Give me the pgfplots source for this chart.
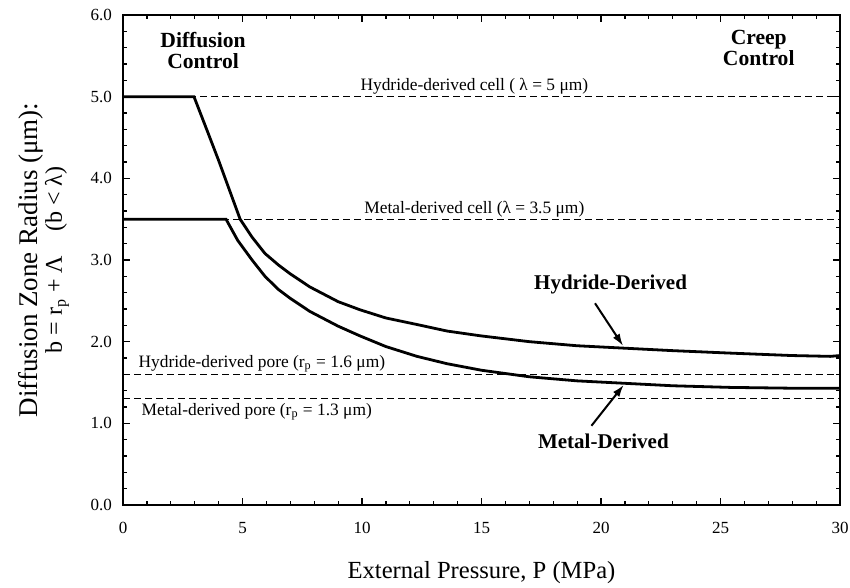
\documentclass[border=0pt]{standalone}
\usepackage{fontspec}
\setmainfont{Liberation Serif}
\usepackage{pgfplots}
\pgfplotsset{compat=1.18}
\usetikzlibrary{arrows.meta}

\begin{document}
\begin{tikzpicture}
\begin{axis}[
  scale only axis, width=358.5pt, height=245pt,
  xmin=0, xmax=30, ymin=0, ymax=6,
  xtick={0,5,...,30}, ytick={0,1,...,6},
  minor x tick num=4, minor y tick num=4,
  tick align=inside, major tick length=3.5pt, minor tick length=2pt,
  tick style={black, line width=0.6pt},
  axis line style={line width=1pt},
  /pgf/number format/assume math mode=true,
  y tick label style={/pgf/number format/.cd, fixed, fixed zerofill, precision=1, /tikz/.cd, xshift=-2pt},
  x tick label style={yshift=-5pt},
  tick label style={font=\fontsize{8.5}{10}\selectfont},
  xlabel={External Pressure, P (MPa)},
  xlabel style={font=\fontsize{12.3}{14}\selectfont, yshift=-7pt},
  ylabel={{\fontsize{13.5}{15}\selectfont Diffusion Zone Radius (μm):}\\
          {\fontsize{12}{14}\selectfont b = r\textsubscript{p} + Λ\quad (b < λ)}},
  ylabel style={align=center, yshift=4pt},
  clip=false,
]
% reference lines
\addplot[black, line width=0.5pt, dash pattern=on 3.3pt off 2.2pt] coordinates {(0,5) (30,5)};
\addplot[black, line width=0.5pt, dash pattern=on 3.3pt off 2.2pt] coordinates {(0,3.5) (30,3.5)};
\addplot[black, line width=0.5pt, dash pattern=on 3.3pt off 2.2pt] coordinates {(0,1.6) (30,1.6)};
\addplot[black, line width=0.5pt, dash pattern=on 3.3pt off 2.2pt] coordinates {(0,1.3) (30,1.3)};

% hydride-derived
\addplot[black, line width=1.4pt] coordinates {
  (0,5) (2.97,5) (3.5,4.6) (4,4.22) (4.5,3.82) (4.9,3.5) (5.4,3.28) (5.94,3.08)
  (6.5,2.94) (7,2.83) (7.82,2.67) (9,2.49) (9.92,2.39) (11,2.29) (12.3,2.21)
  (13.56,2.13) (15,2.07) (17,2.0) (19,1.95) (21,1.92) (23,1.89) (25.4,1.86)
  (28,1.83) (29.6,1.82) (30,1.83)};
% metal-derived
\addplot[black, line width=1.4pt] coordinates {
  (0,3.5) (4.31,3.5) (4.8,3.24) (5.4,3.0) (5.94,2.8) (6.5,2.64) (7,2.53)
  (7.82,2.37) (9,2.19) (9.92,2.07) (11,1.94) (12.3,1.82) (13.56,1.73) (15,1.65)
  (17,1.57) (19,1.52) (21,1.49) (23,1.46) (25.4,1.44) (28,1.43) (30,1.43)};

\node[align=center, font=\fontsize{10.8}{10.5}\selectfont\bfseries] at (axis cs:3.35,5.57) {Diffusion\\Control};
\node[align=center, font=\fontsize{10.8}{10.5}\selectfont\bfseries] at (axis cs:26.6,5.6) {Creep\\Control};

\node[anchor=south, inner sep=1pt, font=\fontsize{8.7}{10}\selectfont] at (axis cs:14.7,5) {Hydride-derived cell ( λ = 5 μm)};
\node[anchor=south, inner sep=1pt, font=\fontsize{8.7}{10}\selectfont] at (axis cs:14.7,3.5) {Metal-derived cell (λ = 3.5 μm)};
\node[anchor=south west, inner sep=1pt, font=\fontsize{8.7}{10}\selectfont] at (axis cs:0.55,1.6) {Hydride-derived pore (r\textsubscript{p} = 1.6 μm)};
\node[anchor=north west, inner sep=2pt, font=\fontsize{8.7}{10}\selectfont] at (axis cs:0.6,1.3) {Metal-derived pore (r\textsubscript{p} = 1.3 μm)};

\node[font=\fontsize{10.5}{12}\selectfont\bfseries] at (axis cs:20.4,2.7) {Hydride-Derived};
\draw[line width=1pt, -{Latex[length=6pt,width=4pt]}] (axis cs:19.75,2.47) -- (axis cs:20.92,1.95);
\node[font=\fontsize{10.5}{12}\selectfont\bfseries] at (axis cs:20.1,0.78) {Metal-Derived};
\draw[line width=1pt, -{Latex[length=6pt,width=4pt]}] (axis cs:19.6,0.97) -- (axis cs:20.95,1.47);

\coordinate (sw) at (rel axis cs:0,0);
\coordinate (ne) at (rel axis cs:1,1);
\end{axis}
\pgfresetboundingbox
\path ([shift={(-61.5pt,-41.5pt)}]sw) rectangle ([shift={(5pt,7.5pt)}]ne);
\end{tikzpicture}
\end{document}
